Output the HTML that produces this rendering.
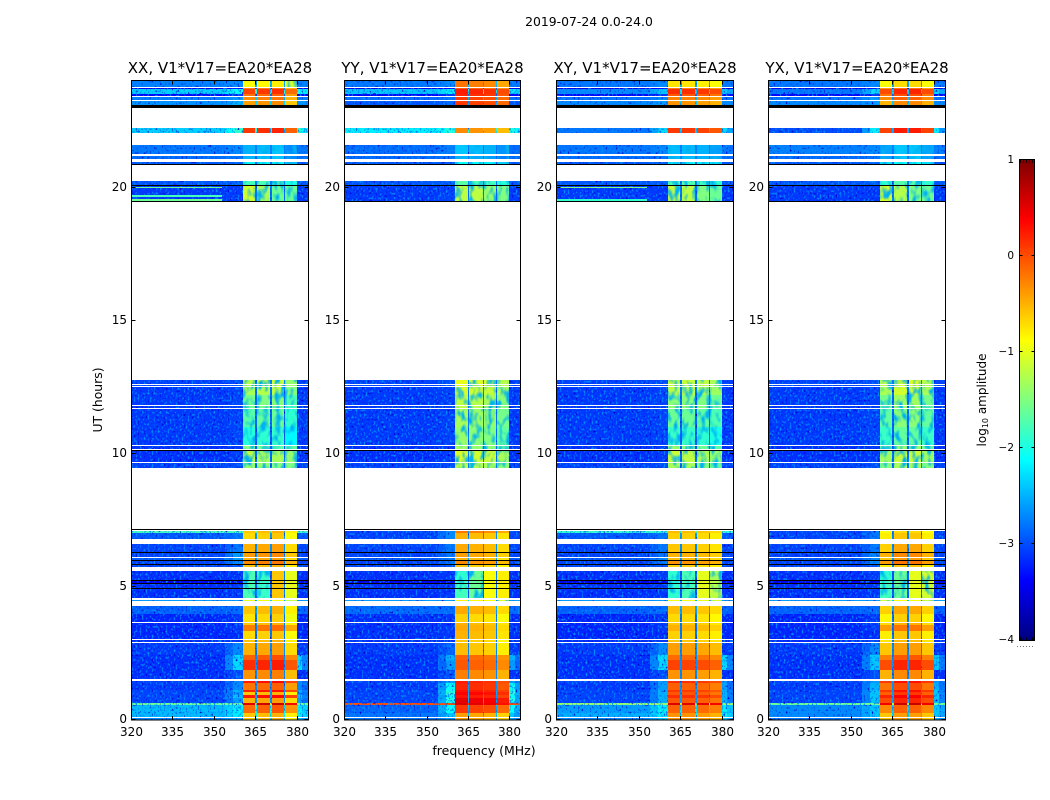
<!DOCTYPE html>
<html>
<head>
<meta charset="utf-8">
<title>2019-07-24 spectrogram</title>
<style>
html,body{margin:0;padding:0;background:#fff;width:1050px;height:800px;overflow:hidden}
svg{display:block}
text{font-family:"DejaVu Sans","Liberation Sans",sans-serif;fill:#000}
</style>
</head>
<body>
<svg id="chart" xmlns="http://www.w3.org/2000/svg" width="1050" height="800" viewBox="0 0 1050 800">
  <defs>
    <filter id="speckle-0" filterUnits="userSpaceOnUse" x="120" y="70" width="840" height="660" color-interpolation-filters="sRGB">
      <feTurbulence type="fractalNoise" baseFrequency="0.5 0.42" numOctaves="1" seed="4" result="n"/>
      <feColorMatrix in="n" type="matrix" values="0 0 0 0 0  0 0 0 0 0.55  0 0 0 0 1  5 0 0 0 -2.7" result="s"/>
      <feComposite in="s" in2="SourceAlpha" operator="in" result="c"/>
      <feColorMatrix in="n" type="matrix" values="0 0 0 0 0  0 0 0 0 0  0 0 0 0 0.8  0 5 0 0 -3" result="d"/>
      <feComposite in="d" in2="SourceAlpha" operator="in" result="e"/>
      <feMerge><feMergeNode in="SourceGraphic"/><feMergeNode in="e"/><feMergeNode in="c"/></feMerge>
    </filter>
    <filter id="mottle-0" filterUnits="userSpaceOnUse" x="120" y="70" width="840" height="660" color-interpolation-filters="sRGB">
      <feTurbulence type="fractalNoise" baseFrequency="0.16 0.09" numOctaves="2" seed="9" result="n"/>
      <feColorMatrix in="n" type="matrix" values="0 0 0 0 0  0 0 0 0 0.7  0 0 0 0 0.95  3.5 0 0 0 -1.6" result="s"/>
      <feComposite in="s" in2="SourceAlpha" operator="in" result="c"/>
      <feMerge><feMergeNode in="SourceGraphic"/><feMergeNode in="c"/></feMerge>
    </filter>
  </defs>
  <text x="589" y="26" font-size="12.4" text-anchor="middle">2019-07-24 0.0-24.0</text>
  <text x="0" y="0" font-size="12.4" text-anchor="middle" transform="translate(102,400) rotate(-90)">UT (hours)</text>
  <text x="484" y="755" font-size="12.5" text-anchor="middle">frequency (MHz)</text>
  <text x="0" y="0" font-size="12" text-anchor="middle" transform="translate(986,400) rotate(-90)">log<tspan font-size="8" dy="2">10</tspan><tspan dy="-2"> amplitude</tspan></text>
  <g id="panels"></g>
  <g id="colorbar"></g>
</svg>
<script>
// Time rows [start hour, end hour]; anything not listed is flagged (white).
var timeRows = [
[0,0.06],[0.10,0.25],[0.25,0.56],[0.56,0.63],[0.63,0.81],[0.81,0.94],[0.94,1.05],[1.05,1.13],[1.13,1.38],[1.38,1.45],
[1.53,1.88],[1.88,2.25],[2.25,2.44],[2.44,2.90],[2.94,3.00],[3.04,3.35],[3.35,3.55],[3.55,3.65],[3.69,4.00],[4.00,4.28],
[4.47,4.50],[4.59,5.10],[5.13,5.23],[5.25,5.60],[5.75,5.82],[5.85,5.98],[6.00,6.07],[6.11,6.28],[6.30,6.60],[6.81,7.03],
[7.03,7.09],[9.47,9.64],[9.68,10.10],[10.16,10.28],[10.32,11.00],[11.00,11.68],[11.72,11.78],[11.82,12.20],[12.20,12.51],[12.54,12.57],
[12.61,12.76],[19.47,20.06],[20.11,20.23],[20.88,20.95],[21.08,21.17],[21.24,21.61],[22.04,22.24],[23.08,23.25],[23.29,23.39],[23.45,23.51],
[23.51,23.69],[23.69,23.74],[23.79,24.00]];
var blackLines = [[4.95,4.97],[5.10,5.13],[5.23,5.25],[5.82,5.85],[5.98,6.00],[6.28,6.30],[7.15,7.19],[10.12,10.15],[19.44,19.48],[20.04,20.11],[20.87,20.90],[23.00,23.08]];
// Rows whose 380-384 MHz edge carries the shoulder level instead of the background
var rightGlowRows = [0,1,2,3,4,5,6,7,8,9,11,12,46,50];

// log10 amplitude read per time row: background, shoulder (354-360 MHz), sub-band level(s)
var xxBackground = [-2.7,-2.45,-2.45,-1.6,-3.05,-3.05,-3.05,-3.05,-3.1,-3.05,-3.15,-3.15,-3.15,-3.1,-3.15,-3.2,-3.2,-3.2,-3.2,-2.9,-2.6,-3.15,-3.4,-3.15,-3.05,-3.05,-2.95,-3.05,-3.05,-2.95,-1.8,-3.05,-3.15,-3.15,-3.1,-3.1,-3.1,-3.1,-3.1,-3.05,-3.05,-3.1,-2.95,-2.95,-2.85,-2.8,-2.35,-2.65,-2.75,-3.35,-2.35,-3.5,-2.75];
var xxShoulder = [-2.5,-2.2,-2.2,-1.6,-2.6,-2.4,-2.6,-2.5,-2.7,-2.7,-3.0,-2.3,-2.3,-2.7,-3.1,-3.15,-3.1,-3.1,-3.1,-2.85,-2.6,-3.1,-3.4,-3.1,-2.95,-2.7,-2.6,-2.6,-2.8,-2.8,-1.8,-3.0,-3.1,-3.1,-3.05,-3.05,-3.05,-3.05,-3.05,-3.0,-3.0,-3.1,-2.9,-2.9,-2.8,-2.7,-1.9,-2.5,-2.6,-3.1,-2.1,-3.3,-2.7];
var xxStrips = [-0.6,-0.6,-0.15,0.55,-0.5,0.25,-0.6,0.2,-0.2,0.25,-0.35,0.15,-0.1,-0.5,-0.6,-0.7,-0.25,-0.6,-0.75,-0.6,-1.0,[-1.75,-1.85,-0.6,-1.0],[-1.75,-1.85,-0.6,-1.0],[-1.75,-1.85,-0.6,-1.0],-0.6,-0.3,-0.5,-0.4,-0.5,-0.7,-0.6,[-1.4,-1.4,-1.5,-1.5],[-1.2,-1.3,-1.3,-1.4],[-1.5,-1.6,-1.7,-1.7],-1.95,-1.7,-1.6,-1.55,-1.3,-1.2,-1.2,[-1.1,-1.3,-1.6,-1.6],-1.8,-2.2,-2.5,-2.5,0.1,-0.4,-0.3,-0.2,0.05,-0.3,-0.9];

var yyBackground = [-2.8,-2.8,-2.9,0.0,-3.05,-3.05,-3.05,-3.05,-3.1,-3.05,-3.15,-3.15,-3.15,-3.1,-3.15,-3.15,-3.15,-3.15,-3.15,-2.85,-2.6,-3.15,-3.4,-3.15,-3.05,-3.05,-2.95,-3.05,-3.05,-3.05,-3.05,-3.05,-3.15,-3.15,-3.1,-3.1,-3.1,-3.1,-3.1,-3.05,-3.05,-3.1,-2.95,-2.95,-2.85,-2.85,-2.2,-2.95,-2.85,-3.35,-2.4,-3.5,-2.8];
var yyShoulder = [-2.6,-2.4,-2.1,0.0,-2.0,-2.1,-1.9,-2.0,-2.1,-2.6,-3.0,-2.6,-2.5,-2.9,-3.1,-3.1,-3.1,-3.1,-3.1,-2.85,-2.6,-3.1,-3.4,-3.1,-2.95,-2.8,-2.8,-2.8,-2.8,-2.7,-2.7,-3.0,-3.1,-3.1,-3.05,-3.05,-3.05,-3.05,-3.05,-3.0,-3.0,-3.05,-2.9,-2.9,-2.8,-2.75,-2.0,-2.85,-2.8,-3.1,-2.2,-3.3,-2.7];
var yyStrips = [-0.5,-0.5,0.0,0.45,0.4,0.2,0.3,0.2,0.1,0.15,-0.35,-0.15,-0.2,-0.65,-0.7,-0.6,-0.55,-0.6,-0.75,-0.55,-0.9,[-1.8,-1.6,-0.9,-0.8],[-1.8,-1.6,-0.9,-0.8],[-1.9,-1.6,-0.9,-0.8],-0.7,-0.4,-0.6,-0.5,-0.55,-0.6,-0.3,-1.3,-1.15,-1.45,-1.5,-1.4,-1.3,-1.3,-1.15,-1.1,-1.1,[-1.2,-1.2,-1.4,-1.5],-1.8,-2.2,-2.6,-2.5,-0.4,0.0,0.0,0.1,0.15,-0.2,-0.3];

var xyBackground = [-2.7,-2.5,-2.6,-1.4,-3.05,-3.05,-3.05,-3.05,-3.1,-3.05,-3.15,-3.15,-3.15,-3.1,-3.15,-3.2,-3.2,-3.2,-3.2,-2.9,-2.6,-3.15,-3.4,-3.15,-3.05,-3.05,-2.95,-3.05,-3.05,-2.95,-1.9,-3.05,-3.15,-3.15,-3.1,-3.1,-3.1,-3.1,-3.1,-3.05,-3.05,-3.1,-2.95,-2.95,-2.85,-2.8,-2.8,-2.7,-2.8,-3.35,-2.7,-3.5,-2.8];
var xyShoulder = [-2.4,-2.2,-2.2,-1.4,-2.5,-2.5,-2.5,-2.5,-2.6,-2.6,-3.0,-2.3,-2.3,-2.7,-3.1,-3.15,-3.1,-3.1,-3.1,-2.85,-2.6,-3.1,-3.4,-3.1,-2.95,-2.8,-2.7,-2.8,-2.8,-2.8,-1.9,-3.0,-3.1,-3.1,-3.05,-3.05,-3.05,-3.05,-3.05,-3.0,-3.0,-3.1,-2.9,-2.9,-2.8,-2.7,-2.3,-2.6,-2.7,-3.1,-2.4,-3.3,-2.7];
var xyStrips = [-0.4,-0.4,-0.15,0.5,-0.1,0.1,-0.1,0.05,-0.15,0.1,-0.4,0.0,-0.2,-0.45,-0.65,-0.7,-0.55,-0.65,-0.75,-0.6,-1.0,[-1.9,-1.75,-1.0,-1.2],[-1.9,-1.75,-1.0,-1.2],[-1.9,-1.75,-1.0,-1.3],-0.7,-0.4,-0.6,-0.55,-0.65,-0.7,-0.6,[-1.3,-1.3,-1.5,-1.6],[-1.15,-1.2,-1.3,-1.4],[-1.4,-1.5,-1.6,-1.7],-1.9,-1.65,-1.5,-1.5,-1.25,-1.2,-1.2,[-1.15,-1.2,-1.5,-1.6],-1.8,-2.2,-2.5,-2.5,0.05,-0.4,-0.3,-0.1,0.1,-0.3,-0.8];

var yxBackground = [-2.8,-2.7,-2.7,-1.6,-3.05,-3.05,-3.05,-3.05,-3.1,-3.05,-3.15,-3.15,-3.15,-3.1,-3.15,-3.2,-3.2,-3.2,-3.2,-2.9,-2.6,-3.15,-3.4,-3.15,-3.05,-3.05,-2.95,-3.05,-3.05,-3.05,-3.05,-3.05,-3.15,-3.15,-3.1,-3.1,-3.1,-3.1,-3.1,-3.05,-3.05,-3.1,-2.95,-2.95,-2.85,-2.75,-3.0,-2.7,-2.8,-3.35,-2.8,-3.5,-2.8];
var yxShoulder = [-2.5,-2.4,-2.4,-1.6,-2.4,-2.4,-2.4,-2.4,-2.5,-2.6,-3.0,-2.4,-2.4,-2.7,-3.1,-3.15,-3.1,-3.1,-3.1,-2.85,-2.6,-3.1,-3.4,-3.1,-2.95,-2.7,-2.7,-2.7,-2.8,-2.8,-2.8,-3.0,-3.1,-3.1,-3.05,-3.05,-3.05,-3.05,-3.05,-3.0,-3.0,-3.1,-2.9,-2.9,-2.8,-2.7,-2.2,-2.6,-2.6,-3.1,-2.3,-3.3,-2.7];
var yxStrips = [-0.5,-0.5,-0.2,0.55,0.1,0.3,0.0,0.2,-0.1,0.2,-0.4,0.1,-0.15,-0.5,-0.65,-0.7,-0.3,-0.6,-0.75,-0.55,-1.0,[-1.8,-1.6,-1.0,-1.1],[-1.8,-1.6,-1.0,-1.1],[-1.9,-1.6,-1.0,-1.1],-0.7,-0.3,-0.5,-0.4,-0.55,-0.7,-0.8,-1.4,-1.25,-1.5,-1.75,-1.55,-1.5,-1.45,-1.2,-1.15,-1.15,[-1.1,-1.25,-1.5,-1.6],-1.8,-2.2,-2.5,-2.5,0.15,-0.4,-0.2,-0.1,0.1,-0.3,-0.8];

// Sub-band offsets for rows that give a single level
var xxStripOffsets = [0,0.05,0.1,-0.2];
var yyStripOffsets = [0.1,0.05,0,-0.15];
var xyStripOffsets = [0.05,0.05,0,-0.1];
var yxStripOffsets = [-0.1,0.1,0.1,-0.1];
// Narrow interference lines [hour, log10 amplitude]
var xxSpurLines = [[19.97,-1.6],[19.66,-1.8],[19.51,-1.6]];
var yySpurLines = [];
var xySpurLines = [[19.97,-1.5],[19.51,-1.9]];
var yxSpurLines = [];

var panelTitles = ["XX, V1*V17=EA20*EA28","YY, V1*V17=EA20*EA28","XY, V1*V17=EA20*EA28","YX, V1*V17=EA20*EA28"];
var panelBackground = [xxBackground,yyBackground,xyBackground,yxBackground];
var panelShoulder = [xxShoulder,yyShoulder,xyShoulder,yxShoulder];
var panelStrips = [xxStrips,yyStrips,xyStrips,yxStrips];
var panelStripOffsets = [xxStripOffsets,yyStripOffsets,xyStripOffsets,yxStripOffsets];
var panelSpurLines = [xxSpurLines,yySpurLines,xySpurLines,yxSpurLines];
var xTicks = [320,335,350,365,380];
var yTicks = [0,5,10,15,20];
var colorbarTicks = [-4,-3,-2,-1,0,1];
var subbandEdges = [[360.4,365.0],[365.6,370.4],[370.9,375.2],[375.8,380]];

var NS = 'http://www.w3.org/2000/svg';
var panelLeft = [131,344,556,768], panelWidth = [177,176,177,177];
var plotTop = 81, plotBottom = 720, fMin = 320, fMax = 384, tMin = 0, tMax = 24;
function yScale(h){ return plotBottom - (h - tMin) / (tMax - tMin) * (plotBottom - plotTop); }
function xScale(i, f){ return panelLeft[i] + (f - fMin) / (fMax - fMin) * panelWidth[i]; }
function jet(v){
  var t = Math.max(0, Math.min(1, (v + 4) / 5));
  function c(x){ return Math.round(255 * Math.max(0, Math.min(1, x))); }
  return 'rgb(' + c(1.5 - Math.abs(4 * t - 3)) + ',' + c(1.5 - Math.abs(4 * t - 2)) + ',' + c(1.5 - Math.abs(4 * t - 1)) + ')';
}
function mk(tag, attrs, parent){
  var el = document.createElementNS(NS, tag);
  for (var k in attrs) el.setAttribute(k, attrs[k]);
  parent.appendChild(el);
  return el;
}
function cell(parent, i, f0, f1, t0, t1, fill){
  var x0 = Math.round(xScale(i, f0)), x1 = Math.round(xScale(i, f1));
  var y0 = Math.round(yScale(t1)), y1 = Math.round(yScale(t0));
  var el = mk('rect', {x:x0, y:y0, width:Math.max(1, x1 - x0), height:Math.max(1, y1 - y0), fill:fill, 'shape-rendering':'crispEdges'}, parent);
  
  
  return el;
}
var root = document.getElementById('panels');
panelTitles.forEach(function(title, i){
  var g = mk('g', {}, root);
  
  
  var noisy = mk('g', {filter:'url(#speckle-0)'}, g);
  
  
  var weak = mk('g', {filter:'url(#mottle-0)'}, g);
  
  
  var strong = mk('g', {}, g);
  
  
  timeRows.forEach(function(row, r){
    var bg = panelBackground[i][r], sh = panelShoulder[i][r], st = panelStrips[i][r];
    var mid = (bg + sh) / 2, glow = rightGlowRows.indexOf(r) >= 0;
    cell(noisy, i, 320, 354, row[0], row[1], jet(bg));
    cell(noisy, i, 354, 357, row[0], row[1], jet(mid));
    cell(noisy, i, 357, 360.4, row[0], row[1], jet(sh));
    cell(noisy, i, 380, 382, row[0], row[1], jet(glow ? sh : bg));
    cell(noisy, i, 382, 384, row[0], row[1], jet(glow ? mid : bg));
    subbandEdges.forEach(function(edge, s){
      var level = Array.isArray(st) ? st[s] : st + panelStripOffsets[i][s];
      cell(level < -1 ? weak : strong, i, edge[0], edge[1], row[0], row[1], jet(level));
      if (s < 3) {
        cell(noisy, i, edge[1], subbandEdges[s + 1][0], row[0], row[1], jet(bg + 0.15 * (level - bg)));
      }
    });
  });
  panelSpurLines[i].forEach(function(sp){
    cell(g, i, 320, 353, sp[0], sp[0] + 0.04, jet(sp[1]));
  });
  blackLines.forEach(function(b){
    cell(g, i, 320, 384, b[0], b[1], '#000');
  });
  var L = panelLeft[i], W = panelWidth[i];
  var frame = mk('rect', {x:L + 0.5, y:plotTop - 0.5, width:W - 0.0, height:plotBottom - plotTop + 0.5, fill:'none', stroke:'#000', 'stroke-width':1}, g);
  
  
  var ttl = mk('text', {x:L + W / 2 + 0.5, y:73, 'font-size':15, 'text-anchor':'middle'}, g);
  ttl.textContent = title;
  
  
  xTicks.forEach(function(t){
    var x = Math.round(xScale(i, t)) + 0.5;
    var a = mk('path', {d:'M' + x + ' ' + plotBottom + 'v-4M' + x + ' ' + (plotTop - 0.5) + 'v4', stroke:'#000', 'stroke-width':1, fill:'none'}, g);
    
    
    var lab = mk('text', {x:x, y:736, 'font-size':12, 'text-anchor':'middle'}, g);
    lab.textContent = t;
    
    
  });
  yTicks.forEach(function(t){
    var y = Math.round(yScale(t)) - 0.5;
    var a = mk('path', {d:'M' + (L + 0.5) + ' ' + y + 'h4M' + (L + W + 0.5) + ' ' + y + 'h-4', stroke:'#000', 'stroke-width':1, fill:'none'}, g);
    
    
    var lab = mk('text', {x:L - 4, y:y + 3.5, 'font-size':12, 'text-anchor':'end'}, g);
    lab.textContent = t;
    
    
  });
});

// Colorbar
var cb = document.getElementById('colorbar');
var cbLeft = 1019, cbRight = 1034, cbTop = 160, cbBottom = 640;
function cbScale(v){ return cbBottom - (v + 4) / 5 * (cbBottom - cbTop); }
for (var p = cbTop; p < cbBottom; p += 2) {
  var v = -4 + (cbBottom - p - 1) / (cbBottom - cbTop) * 5;
  var seg = mk('rect', {x:cbLeft, y:p, width:cbRight - cbLeft, height:2, fill:jet(v), 'shape-rendering':'crispEdges'}, cb);
  
  
}
var cbFrame = mk('rect', {x:cbLeft + 0.5, y:cbTop - 0.5, width:cbRight - cbLeft, height:cbBottom - cbTop + 1, fill:'none', stroke:'#000', 'stroke-width':1}, cb);


colorbarTicks.forEach(function(t){
  var y = Math.round(cbScale(t)) - 0.5;
  var a = mk('path', {d:'M' + (cbLeft + 0.5) + ' ' + y + 'h3M' + (cbRight + 0.5) + ' ' + y + 'h-3', stroke:'#000', 'stroke-width':1, fill:'none'}, cb);
  
  
  var lab = mk('text', {x:1014, y:Math.round(cbScale(t)) + 3, 'font-size':10.5, 'text-anchor':'end'}, cb);
  lab.textContent = t < 0 ? '\u2212' + Math.abs(t) : String(t);
  
  
});
var cbEnds = mk('path', {d:'M1020.5 160v3M1023.5 160v3M1026.5 160v3M1029.5 160v3M1032.5 160v3M1020.5 640v-3M1023.5 640v-3M1026.5 640v-3M1029.5 640v-3M1032.5 640v-3', stroke:'#000', 'stroke-width':0.8, fill:'none'}, cb);


var cbDots = mk('path', {d:'M1017 646.5h17', stroke:'#777', 'stroke-width':1, 'stroke-dasharray':'1 2', fill:'none'}, cb);


</script>
</body>
</html>
